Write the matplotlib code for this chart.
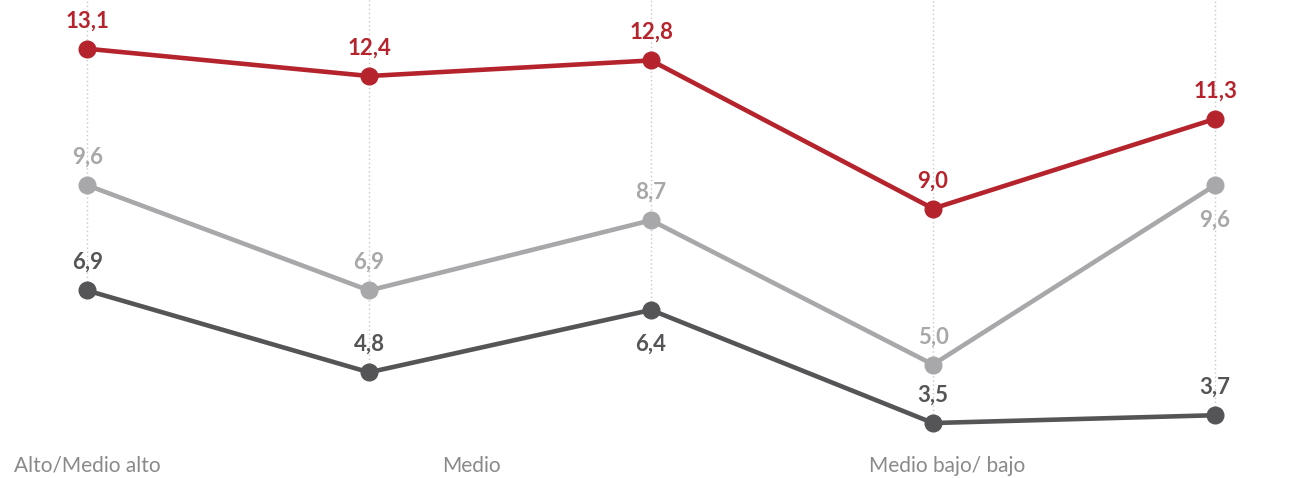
import numpy as np
import matplotlib
matplotlib.use("Agg")
import matplotlib.pyplot as plt

plt.rcParams['font.family'] = ['Lato', 'DejaVu Sans']

# categories along x (5 points), group labels below
x_pos = [0, 1, 2, 3, 4]
group_labels = ["Alto/Medio alto", "Medio", "Medio bajo/ bajo"]

red_vals = [13.1, 12.4, 12.8, 9.0, 11.3]
grey_vals = [9.6, 6.9, 8.7, 5.0, 9.6]
dark_vals = [6.9, 4.8, 6.4, 3.5, 3.7]

red_c = "#b5242d"
grey_c = "#a8a8ab"
dark_c = "#555557"

fig = plt.figure(figsize=(12.9, 4.78), dpi=100)
ax = fig.add_axes([0, 0, 1, 1])
ax.set_xlim(-0.309, 4.266)
ax.set_ylim(2.09, 14.35)
ax.axis("off")

# dotted guides from top down to the lowest point of each column
lows = np.minimum(np.minimum(red_vals, grey_vals), dark_vals)
for xi, lo in zip(x_pos, lows):
    ax.plot([xi, xi], [lo, 14.35], color="#c8c8c8", lw=1, ls=(0, (1, 2)), zorder=1)

series = [
    (red_vals, red_c, [1, 1, 1, 1, 1]),
    (grey_vals, grey_c, [1, 1, 1, 1, -1]),
    (dark_vals, dark_c, [1, 1, -1, 1, 1]),
]
for vals, col, where in series:
    ax.plot(x_pos, vals, color=col, lw=3.3, marker="o", ms=12,
            solid_capstyle="round", zorder=3)
    for xi, v, w in zip(x_pos, vals, where):
        off = 20 if w > 0 else -25
        ax.annotate(f"{v:.1f}".replace(".", ","), (xi, v),
                    xytext=(0, off), textcoords="offset points",
                    ha="center", va="center", fontsize=16,
                    fontweight="bold", color=col, zorder=4)

for lx, txt in zip([0.011, 0.343, 0.674], group_labels):
    ax.text(lx, 0.026, txt, transform=ax.transAxes, ha="left", va="center",
            fontsize=15, color="#8a8a8a")

fig.savefig("out.png", dpi=100)
